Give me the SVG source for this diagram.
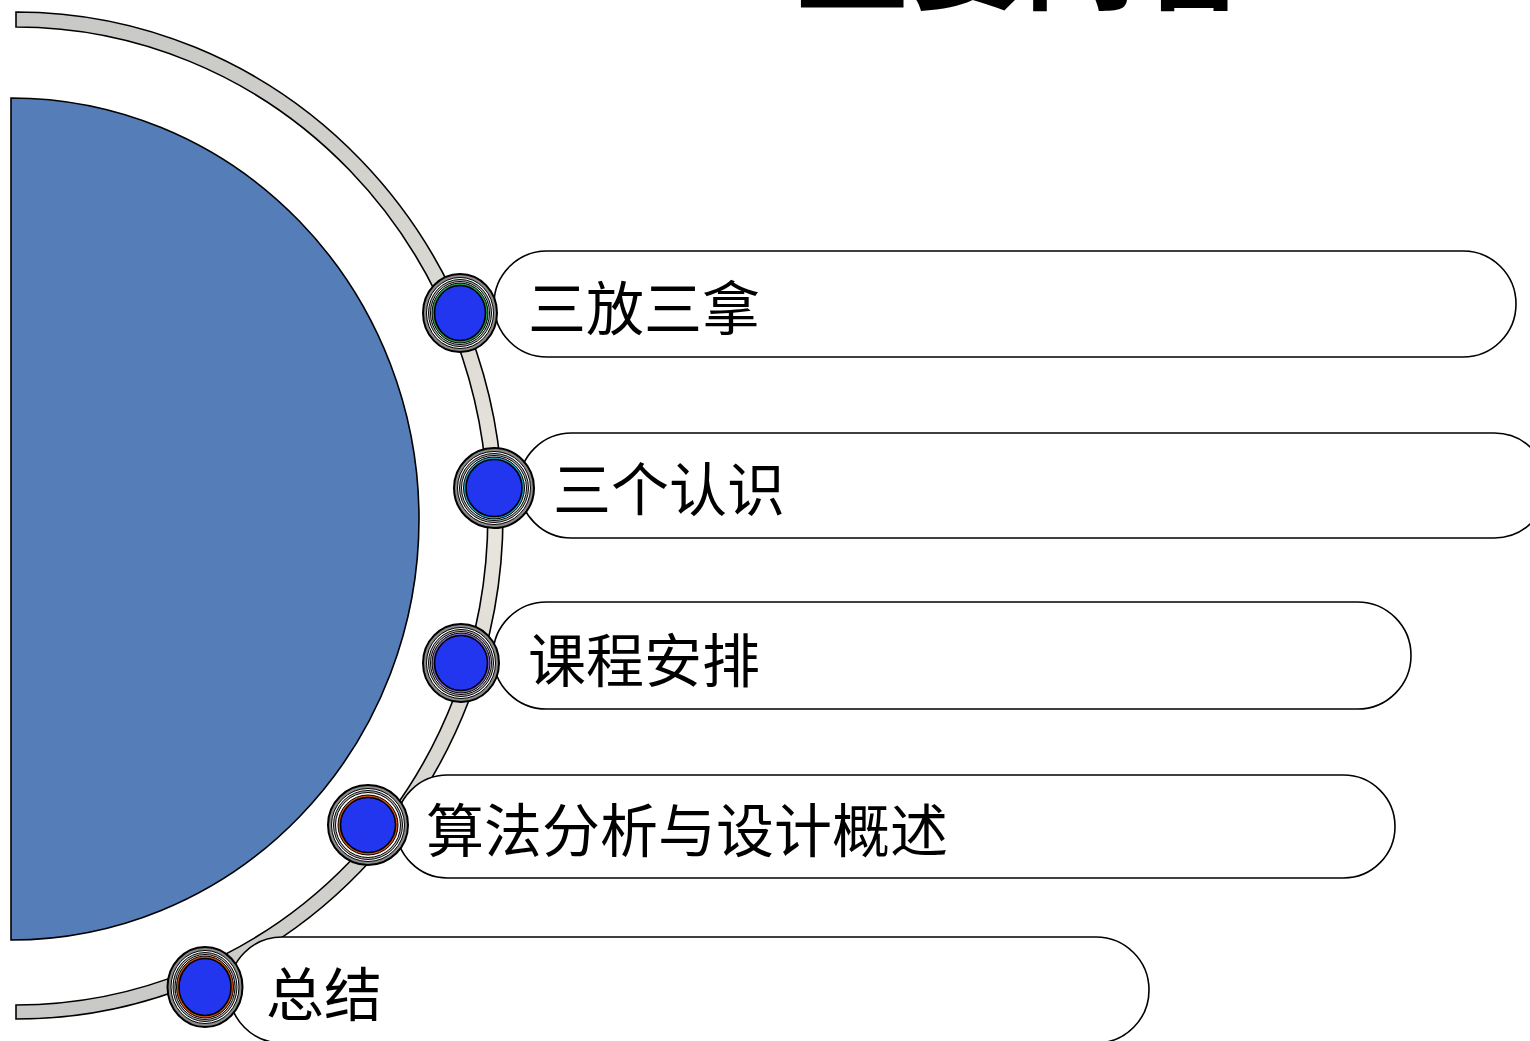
<svg xmlns="http://www.w3.org/2000/svg" width="1530" height="1041" viewBox="0 0 1530 1041">
<style>
.pill{fill:#fff;stroke:#000;stroke-width:1.6}
.lbl{font-family:"Noto Sans CJK SC","Noto Sans",sans-serif;font-size:58px;fill:#000}
.o1{fill:#8a8a8a;stroke:#000;stroke-width:2}
.o2{fill:#fff;stroke:#000;stroke-width:1}
.o3{fill:#b0b0b0;stroke:#000;stroke-width:1}
.o4{stroke:#000;stroke-width:1}
.core{fill:#2236f0;stroke:#000;stroke-width:1.6}
</style>
<defs>
<linearGradient id="band" gradientUnits="userSpaceOnUse" x1="0" y1="12" x2="0" y2="1019">
<stop offset="0" stop-color="#c8c8c6"/>
<stop offset="0.3" stop-color="#dcdad3"/>
<stop offset="0.5" stop-color="#e8e6de"/>
<stop offset="0.7" stop-color="#dcdad3"/>
<stop offset="1" stop-color="#c8c8c6"/>
</linearGradient>
</defs>
<text x="795" y="0" font-family="Noto Sans CJK SC,sans-serif" font-size="114" font-weight="bold" fill="#000" textLength="456">主要内容</text>
<g id="half-disc">
<path d="M11,98 A408,421 0 0 1 11,940 Z" fill="#557eb9" stroke="#000" stroke-width="1.6"/>
</g>
<g id="connectors">
<path d="M16,12 A487,503.5 0 0 1 16,1019 L16,1005 A472,489 0 0 0 16,27 Z" fill="url(#band)" stroke="#000" stroke-width="1.6"/>
</g>
<g id="item1">
<rect class="pill" x="494" y="251" width="1022" height="106" rx="53"/>
<text class="lbl" x="528" y="330">三放三拿</text>
</g>
<g id="item2">
<rect class="pill" x="519" y="433" width="1028" height="105" rx="52.5"/>
<text class="lbl" x="553" y="511">三个认识</text>
</g>
<g id="item3">
<rect class="pill" x="493" y="602" width="918" height="107" rx="53.5"/>
<text class="lbl" x="528" y="682">课程安排</text>
</g>
<g id="item4">
<rect class="pill" x="396" y="775" width="999" height="103" rx="51.5"/>
<text class="lbl" x="426" y="852">算法分析与设计概述</text>
</g>
<g id="item5">
<rect class="pill" x="229" y="937" width="920" height="106" rx="53"/>
<text class="lbl" x="266" y="1016">总结</text>
</g>
<g id="node1" transform="translate(460,313)">
<ellipse class="o1" rx="37" ry="39"/><ellipse class="o2" rx="33.5" ry="35.5"/><ellipse class="o3" rx="31.5" ry="33.5"/><ellipse class="o2" rx="29.5" ry="31.5"/>
<ellipse class="o4" fill="#20a050" rx="28" ry="30"/><ellipse class="core" rx="25.5" ry="27.5"/>
</g>
<g id="node2" transform="translate(494,488)">
<ellipse class="o1" rx="40" ry="40"/><ellipse class="o2" rx="36.5" ry="36.5"/><ellipse class="o3" rx="34.5" ry="34.5"/><ellipse class="o2" rx="32.5" ry="32.5"/>
<ellipse class="o4" fill="#20a0c8" rx="30.5" ry="31"/><ellipse class="core" rx="28" ry="28.5"/>
</g>
<g id="node3" transform="translate(461,663)">
<ellipse class="o1" rx="38" ry="39"/><ellipse class="o2" rx="34.5" ry="35.5"/><ellipse class="o3" rx="32.5" ry="33.5"/><ellipse class="o2" rx="30.5" ry="31.5"/>
<ellipse class="o4" fill="#8060c0" rx="29" ry="30"/><ellipse class="core" rx="26.5" ry="27.5"/>
</g>
<g id="node4" transform="translate(368,825)">
<ellipse class="o1" rx="40" ry="40"/><ellipse class="o2" rx="36.5" ry="36.5"/><ellipse class="o3" rx="34.5" ry="34.5"/><ellipse class="o2" rx="32.5" ry="32.5"/>
<ellipse class="o4" fill="#d05010" rx="30" ry="30"/><ellipse class="core" rx="27.5" ry="27.5"/>
</g>
<g id="node5" transform="translate(205,987)">
<ellipse class="o1" rx="37.5" ry="40"/><ellipse class="o2" rx="34" ry="36.5"/><ellipse class="o3" rx="32" ry="34.5"/><ellipse class="o2" rx="30" ry="32.5"/>
<ellipse class="o4" fill="#d05010" rx="28.5" ry="31"/><ellipse class="core" rx="26" ry="28.5"/>
</g>
</svg>
